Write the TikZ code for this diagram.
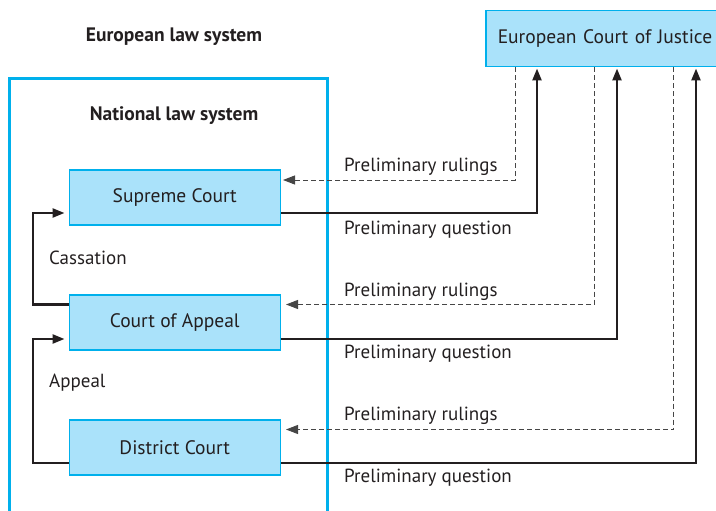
\documentclass[tikz,border=0pt]{standalone}
\usepackage{fontspec}
\setmainfont{PT Sans}
\usetikzlibrary{arrows.meta}
\definecolor{boxfill}{RGB}{170,226,250}
\definecolor{boxline}{RGB}{0,176,236}
\definecolor{ink}{RGB}{35,31,32}
\definecolor{dashink}{RGB}{70,70,70}
\begin{document}
\begin{tikzpicture}[x=1pt,y=-1pt,
  court/.style={draw=boxline,line width=1.5pt,fill=boxfill,minimum width=211pt,minimum height=55pt,inner sep=0pt,font=\fontsize{19.5}{22}\selectfont,text=ink},
  title/.style={font=\bfseries\fontsize{19.5}{22}\selectfont,text=ink},
  lbl/.style={font=\fontsize{19}{22}\selectfont,text=ink,anchor=west,inner sep=0pt},
  question/.style={draw=ink,line width=2.4pt,-{Triangle[length=12pt,width=9pt]}},
  ruling/.style={draw=dashink,line width=0.9pt,dash pattern=on 5pt off 3pt,-{Triangle[length=12pt,width=9pt]}}]
\useasboundingbox (0,0) rectangle (716,511);
\clip (0,0) rectangle (716,511);
% frame
\draw[boxline,line width=3pt] (9,530) -- (9,79) -- (327,79) -- (327,530);
% titles
\node[title] (eurtitle) at (174,37) {European law system};
\node[title] (nattitle) at (174,116) {National law system};
% ECJ
\node[court,anchor=north west,minimum width=240pt,minimum height=56pt,text width=220pt,align=left] (ecj) at (485,10) {\hspace*{2pt}European Court of Justice};
% courts
\node[court,anchor=north west] (sc) at (68.5,169) {Supreme Court};
\node[court,anchor=north west] (ca) at (68.5,294) {Court of Appeal};
\node[court,anchor=north west] (dc) at (68.5,419) {District Court};
% coordinates
\coordinate (r1) at (515,180);
\coordinate (r2) at (594,304.5);
\coordinate (r3) at (673.5,429.5);
\coordinate (q1) at (537,213);
\coordinate (q2) at (617,339);
\coordinate (q3) at (696,463);
\coordinate (cl) at (33,304.5);
\coordinate (al) at (33,463);
% rulings
\draw[ruling] (r1 |- ecj.south) -- (r1) -- (283,180);
\draw[ruling] (r2 |- ecj.south) -- (r2) -- (286,304.5);
\draw[ruling] (r3 |- ecj.south) -- (r3) -- (286,429.5);
% questions
\draw[question] (sc.east |- q1) -- (q1) -- ([yshift=-1pt]q1 |- ecj.south);
\draw[question] (ca.east |- q2) -- (q2) -- ([yshift=-1pt]q2 |- ecj.south);
\draw[question] (dc.east |- q3) -- (q3) -- ([yshift=-1pt]q3 |- ecj.south);
% cassation / appeal
\draw[question] (ca.west |- cl) -- (cl) -- (33,213) -- ([xshift=-4pt]sc.west |- 0,213);
\draw[question] (dc.west |- al) -- (al) -- (33,339) -- ([xshift=-4pt]ca.west |- 0,339);
% labels
\node[lbl] (lr1) at (344,167) {Preliminary rulings};
\node[lbl] (lq1) at (344,230) {Preliminary question};
\node[lbl] (lr2) at (344,292) {Preliminary rulings};
\node[lbl] (lq2) at (344,354) {Preliminary question};
\node[lbl] (lr3) at (344,416) {Preliminary rulings};
\node[lbl] (lq3) at (344,478) {Preliminary question};
\node[lbl] (cass) at (49,258) {Cassation};
\node[lbl] (app) at (49,383) {Appeal};
\end{tikzpicture}
\end{document}
